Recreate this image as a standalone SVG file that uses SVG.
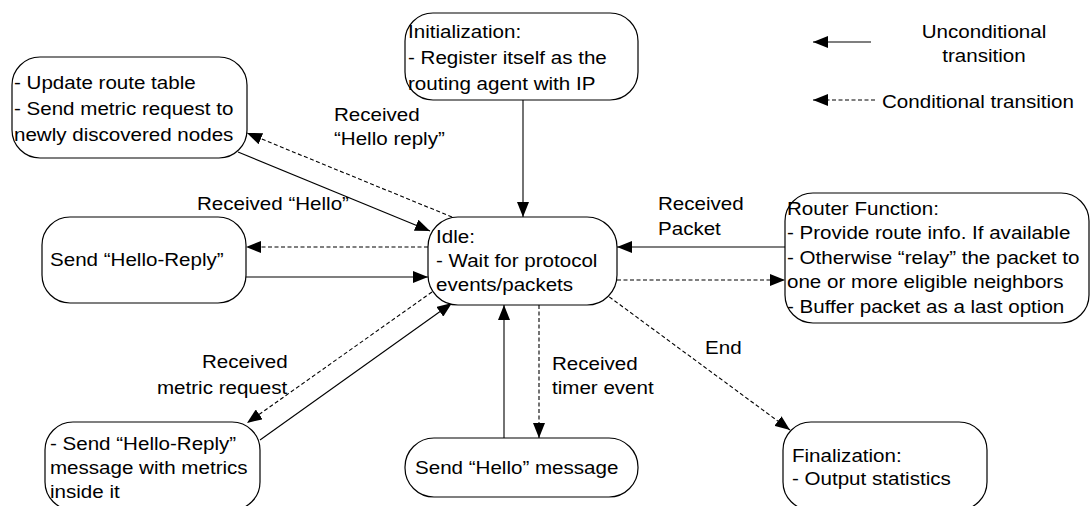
<svg xmlns="http://www.w3.org/2000/svg" width="1091" height="506" viewBox="0 0 1091 506">
<style>
.box{fill:#fff;stroke:#000;stroke-width:1.2}
.t{font-family:"Liberation Sans",Arial,sans-serif;font-size:18.7px;fill:#000}
.c{fill:none;stroke:#000;stroke-width:1.1}
.d{stroke-dasharray:4,2.5}
</style>
<defs>
<marker id="ah" markerUnits="userSpaceOnUse" markerWidth="15" markerHeight="12" refX="15" refY="6" orient="auto">
<path d="M0,0 L15,6 L0,12 z" fill="#000"/>
</marker>
</defs>
<rect width="1091" height="506" fill="#fff"/>
<g id="connectors">
<line class="c" x1="523" y1="100" x2="523" y2="217" marker-end="url(#ah)"/>
<line class="c d" x1="452" y1="217" x2="247" y2="133" marker-end="url(#ah)"/>
<line class="c" x1="238" y1="152" x2="430" y2="231" marker-end="url(#ah)"/>
<line class="c d" x1="428" y1="247" x2="246" y2="247" marker-end="url(#ah)"/>
<line class="c" x1="246" y1="277" x2="428" y2="277" marker-end="url(#ah)"/>
<line class="c d" x1="432" y1="292" x2="247" y2="423" marker-end="url(#ah)"/>
<line class="c" x1="260" y1="440" x2="452" y2="303" marker-end="url(#ah)"/>
<line class="c" x1="504" y1="438" x2="504" y2="305" marker-end="url(#ah)"/>
<line class="c d" x1="539" y1="305" x2="539" y2="438" marker-end="url(#ah)"/>
<line class="c d" x1="604" y1="293" x2="790" y2="430" marker-end="url(#ah)"/>
<line class="c" x1="785" y1="247" x2="617" y2="247" marker-end="url(#ah)"/>
<line class="c d" x1="617" y1="280" x2="785" y2="280" marker-end="url(#ah)"/>
<line class="c" x1="871" y1="42" x2="813" y2="42" marker-end="url(#ah)"/>
<line class="c d" x1="875" y1="100" x2="813" y2="100" marker-end="url(#ah)"/>
</g>
<g id="labels">
<text class="t" transform="translate(334,121) scale(1.1,1)"><tspan x="0" y="0">Received</tspan><tspan x="0" y="24">“Hello reply”</tspan></text>
<text class="t" transform="translate(197,210) scale(1.1,1)">Received “Hello”</text>
<text class="t" transform="translate(658,210) scale(1.1,1)"><tspan x="0" y="0">Received</tspan><tspan x="0" y="25">Packet</tspan></text>
<text class="t" transform="translate(202,368) scale(1.1,1)">Received</text>
<text class="t" transform="translate(157,394) scale(1.1,1)">metric request</text>
<text class="t" transform="translate(552,370) scale(1.1,1)"><tspan x="0" y="0">Received</tspan><tspan x="0" y="24">timer event</tspan></text>
<text class="t" transform="translate(705,354) scale(1.1,1)">End</text>
</g>
<g id="legend">
<text class="t" text-anchor="middle" transform="translate(984,38) scale(1.1,1)"><tspan x="0" y="0">Unconditional</tspan><tspan x="0" y="24">transition</tspan></text>
<text class="t" transform="translate(882,108) scale(1.1,1)">Conditional transition</text>
</g>
<g id="update">
<rect class="box" x="12" y="57" width="235" height="101" rx="28" ry="28"/>
<text class="t" transform="translate(14,89) scale(1.1,1)"><tspan x="0" y="0">- Update route table</tspan><tspan x="0" y="26">- Send metric request to</tspan><tspan x="0" y="52">newly discovered nodes</tspan></text>
</g>
<g id="init">
<rect class="box" x="405" y="13" width="233" height="87" rx="28" ry="28"/>
<text class="t" transform="translate(408,38) scale(1.1,1)"><tspan x="0" y="0">Initialization:</tspan><tspan x="0" y="26">- Register itself as the</tspan><tspan x="0" y="52">routing agent with IP</tspan></text>
</g>
<g id="idle">
<rect class="box" x="428" y="217" width="189" height="88" rx="30" ry="30"/>
<text class="t" transform="translate(436,243) scale(1.1,1)"><tspan x="0" y="0">Idle:</tspan><tspan x="0" y="24">- Wait for protocol</tspan><tspan x="0" y="48">events/packets</tspan></text>
</g>
<g id="sendreply">
<rect class="box" x="42" y="217" width="204" height="86" rx="28" ry="28"/>
<text class="t" transform="translate(50,266) scale(1.1,1)">Send “Hello-Reply”</text>
</g>
<g id="router">
<rect class="box" x="785" y="193" width="304" height="130" rx="28" ry="28"/>
<text class="t" transform="translate(787,215) scale(1.1,1)"><tspan x="0" y="0">Router Function:</tspan><tspan x="0" y="24.5">- Provide route info. If available</tspan><tspan x="0" y="49">- Otherwise “relay” the packet to</tspan><tspan x="0" y="73.5">one or more eligible neighbors</tspan><tspan x="0" y="98">- Buffer packet as a last option</tspan></text>
</g>
<g id="metrics">
<rect class="box" x="45" y="422" width="215" height="88" rx="28" ry="28"/>
<text class="t" transform="translate(50,450) scale(1.1,1)"><tspan x="0" y="0">- Send “Hello-Reply”</tspan><tspan x="0" y="24">message with metrics</tspan><tspan x="0" y="48">inside it</tspan></text>
</g>
<g id="sendhello">
<rect class="box" x="405" y="438" width="233" height="59" rx="29" ry="29"/>
<text class="t" transform="translate(415,474) scale(1.1,1)">Send “Hello” message</text>
</g>
<g id="final">
<rect class="box" x="783" y="422" width="204" height="88" rx="28" ry="28"/>
<text class="t" transform="translate(792,462) scale(1.1,1)"><tspan x="0" y="0">Finalization:</tspan><tspan x="0" y="23">- Output statistics</tspan></text>
</g>
</svg>
